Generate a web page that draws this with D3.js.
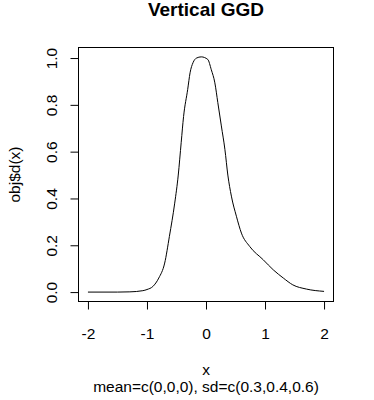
<!DOCTYPE html>
<html>
<head>
    <meta charset="utf-8">
    <title>Vertical GGD</title>
    <script src="https://d3js.org/d3.v7.min.js"></script>
    <style>
        body { margin: 0; background: #fff; }
        text { font-family: Arial, "Liberation Sans", sans-serif; fill: #000; }
    </style>
</head>
<body>
    <script>

        // density curve
        var xs = [-2, -1.5, -1.29, -1.07, -1.0, -0.9, -0.8, -0.7, -0.62, -0.53, -0.47, -0.42, -0.38, -0.31,
                  -0.27, -0.22, -0.16, -0.08, 0.03, 0.09, 0.15, 0.20, 0.26, 0.32, 0.37, 0.43, 0.515, 0.60,
                  0.74, 0.97, 1.14, 1.31, 1.47, 1.70, 2.0];
        var ys = [0, 0, 0.001, 0.006, 0.011, 0.024, 0.06, 0.124, 0.238, 0.38, 0.5, 0.64, 0.75, 0.866,
                  0.937, 0.98, 1.0, 1.005, 0.994, 0.95, 0.894, 0.81, 0.71, 0.61, 0.5, 0.41, 0.324, 0.252,
                  0.195, 0.138, 0.095, 0.06, 0.031, 0.013, 0.003];
        var xTicks = [-2, -1, 0, 1, 2];
        var yTicks = [0, 0.2, 0.4, 0.6, 0.8, 1.0];

        var title = "Vertical GGD";
        var xLabel = "x";
        var subLabel = "mean=c(0,0,0), sd=c(0.3,0.4,0.6)";
        var yLabel = "obj$d(x)";

        var W = 374, H = 400;
        var box = { left: 78.5, right: 333.5, top: 47.5, bottom: 301.5 };
        var fs = "15.5px";

        var svg = d3.select("body")
            .append("svg")
            .attr("width", W)
            .attr("height", H);

        // R style 4% range extension
        var xScale = d3.scaleLinear()
            .domain([-2.16, 2.16])
            .range([box.left, box.right]);
        var yScale = d3.scaleLinear()
            .domain([-0.0402, 1.045])
            .range([box.bottom, box.top]);

        var data = xs.map(function(x, i) { return [x, ys[i]]; });

        var line = d3.line()
            .x(function(d) { return xScale(d[0]); })
            .y(function(d) { return yScale(d[1]); })
            .curve(d3.curveMonotoneX);

        svg.append("path")
            .datum(data)
            .attr("d", line)
            .attr("fill", "none")
            .attr("stroke", "#000")
            .attr("stroke-width", 1);

        // box
        svg.append("rect")
            .attr("x", box.left)
            .attr("y", box.top)
            .attr("width", box.right - box.left)
            .attr("height", box.bottom - box.top)
            .attr("fill", "none")
            .attr("stroke", "#000");

        var xAxis = d3.axisBottom(xScale)
            .tickValues(xTicks)
            .tickSize(8)
            .tickFormat(d3.format("d"));

        var gx = svg.append("g")
            .attr("transform", "translate(0," + box.bottom + ")")
            .call(xAxis);
        gx.select(".domain").remove();
        gx.selectAll("text")
            .attr("font-size", fs)
            .attr("font-family", null)
            .attr("y", 37)
            .attr("dy", null)
            .text(function(d) { return d < 0 ? "-" + Math.abs(d) : d; });

        var yAxis = d3.axisLeft(yScale)
            .tickValues(yTicks)
            .tickSize(8)
            .tickFormat(d3.format(".1f"));

        var gy = svg.append("g")
            .attr("transform", "translate(" + box.left + ",0)")
            .call(yAxis);
        gy.select(".domain").remove();
        gy.selectAll("text")
            .attr("font-size", fs)
            .attr("font-family", null)
            .attr("x", null)
            .attr("dy", null)
            .attr("text-anchor", "middle")
            .attr("transform", "translate(-22,0) rotate(-90)");

        svg.append("text")
            .attr("x", (box.left + box.right) / 2)
            .attr("y", 16)
            .attr("text-anchor", "middle")
            .style("font-size", "19px")
            .style("font-weight", "bold")
            .text(title);

        svg.append("text")
            .attr("x", (box.left + box.right) / 2)
            .attr("y", 375)
            .attr("text-anchor", "middle")
            .style("font-size", fs)
            .text(xLabel);

        svg.append("text")
            .attr("x", (box.left + box.right) / 2)
            .attr("y", 392)
            .attr("text-anchor", "middle")
            .style("font-size", fs)
            .text(subLabel);

        svg.append("text")
            .attr("transform", "translate(20," + (box.top + box.bottom) / 2 + ") rotate(-90)")
            .attr("text-anchor", "middle")
            .style("font-size", fs)
            .text(yLabel);

    </script>
</body>
</html>
